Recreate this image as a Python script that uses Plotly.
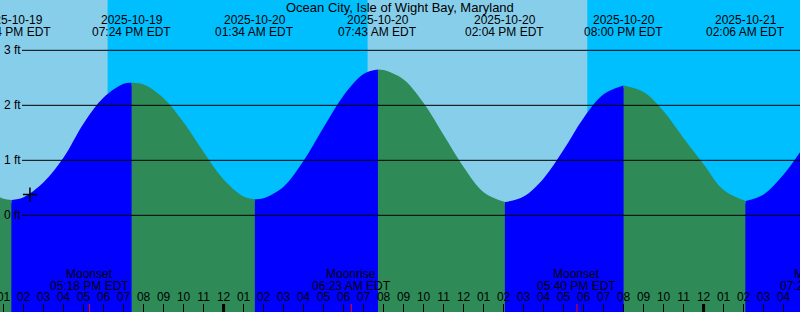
import plotly.graph_objects as go
from datetime import datetime, timedelta

TITLE = "Ocean City, Isle of Wight Bay, Maryland"

# Tide height readings (ft), roughly hourly
hour_times = [
    "2025-10-19 12:00", "2025-10-19 13:00", "2025-10-19 14:00", "2025-10-19 15:00",
    "2025-10-19 16:00", "2025-10-19 17:00", "2025-10-19 18:00", "2025-10-19 19:00",
    "2025-10-19 20:00", "2025-10-19 21:00", "2025-10-19 22:00", "2025-10-19 23:00",
    "2025-10-20 00:00", "2025-10-20 01:00", "2025-10-20 02:00", "2025-10-20 03:00",
    "2025-10-20 04:00", "2025-10-20 05:00", "2025-10-20 06:00", "2025-10-20 07:00",
    "2025-10-20 08:00", "2025-10-20 09:00", "2025-10-20 10:00", "2025-10-20 11:00",
    "2025-10-20 12:00", "2025-10-20 13:00", "2025-10-20 15:00", "2025-10-20 16:00",
    "2025-10-20 17:00", "2025-10-20 18:00", "2025-10-20 19:00", "2025-10-20 21:00",
    "2025-10-20 22:00", "2025-10-20 23:00", "2025-10-21 00:00", "2025-10-21 01:00",
    "2025-10-21 03:00", "2025-10-21 04:00", "2025-10-21 05:00", "2025-10-21 06:00",
]
hour_ft = [
    0.52, 0.30, 0.33, 0.60,
    1.05, 1.67, 2.14, 2.39,
    2.38, 2.13, 1.69, 1.15,
    0.65, 0.34, 0.31, 0.52,
    0.99, 1.60, 2.18, 2.57,
    2.64, 2.47, 2.04, 1.46,
    0.88, 0.42, 0.34, 0.67,
    1.19, 1.77, 2.20, 2.24,
    1.89, 1.40, 0.93, 0.46,
    0.38, 0.74, 1.24, 1.78,
]

# High / low tide events
event_times = ["2025-10-19 13:24", "2025-10-19 19:24", "2025-10-20 01:34",
               "2025-10-20 07:43", "2025-10-20 14:04", "2025-10-20 20:00",
               "2025-10-21 02:06"]
event_ft = [0.28, 2.41, 0.29, 2.65, 0.24, 2.36, 0.26]

# Sun events
sun_times = ["2025-10-19 18:12", "2025-10-20 07:12", "2025-10-20 18:11"]
sun_kinds = ["set", "rise", "set"]

# Moon events
moon_times = ["2025-10-19 17:18", "2025-10-20 06:23", "2025-10-20 17:40", "2025-10-21 07:27"]
moon_kinds = ["Moonset", "Moonrise", "Moonset", "Moonrise"]

# Current-time marker
now_time = "2025-10-19 14:19"
now_ft = 0.38

y_ticks = [0, 1, 2, 3]
y_tick_labels = ["0 ft", "1 ft", "2 ft", "3 ft"]

x_start = "2025-10-19 12:49:12"
x_end = "2025-10-21 04:49:12"
y_range = [-1.758, 3.915]

# colours / style
DAY = "#87CEEB"
NIGHT = "#00BFFF"
RISE = "#0000FF"
FALL = "#2E8B57"
FONT = "Liberation Sans"
W, H = 800, 312


def P(s):
    fmt = "%Y-%m-%d %H:%M" if s.count(":") == 1 else "%Y-%m-%d %H:%M:%S"
    return datetime.strptime(s, fmt)


# merge readings with events
pts = sorted([(P(t), v, False) for t, v in zip(hour_times, hour_ft)] +
             [(P(t), v, True) for t, v in zip(event_times, event_ft)], key=lambda p: p[0])
xs = [p[0] for p in pts]
ys = [p[1] for p in pts]
bounds = [0] + [i for i, p in enumerate(pts) if p[2]] + [len(pts) - 1]

base = y_range[0] - 1.0
fig = go.Figure()


def add_fill(sx, sy, color):
    fig.add_trace(go.Scatter(x=[sx[0], sx[-1]], y=[base, base], mode="lines",
                             line=dict(width=0), hoverinfo="skip", showlegend=False))
    fig.add_trace(go.Scatter(x=sx, y=sy, mode="lines",
                             line=dict(width=0, shape="spline", smoothing=1),
                             fill="tonexty", fillcolor=color,
                             hoverinfo="skip", showlegend=False))


# under-layer kept slightly below the curve so segment seams don't show the sky
add_fill(xs, [v - 0.05 for v in ys], RISE)
# each rising / falling stretch in its own colour
for a, b in zip(bounds[:-1], bounds[1:]):
    add_fill(xs[a:b + 1], ys[a:b + 1], RISE if ys[b] > ys[a] else FALL)

# now marker
fig.add_trace(go.Scatter(x=[P(now_time)], y=[now_ft], mode="markers",
                         marker=dict(symbol="cross-thin", size=10,
                                     line=dict(width=1.5, color="black")),
                         hoverinfo="skip", showlegend=False))

shapes = []
# daylight spans
day_spans = []
cur = P(x_start)
for t, k in zip(sun_times, sun_kinds):
    if k == "set":
        day_spans.append((cur, P(t)))
        cur = None
    else:
        cur = P(t)
if cur is not None:
    day_spans.append((cur, P(x_end)))
for a, b in day_spans:
    shapes.append(dict(type="rect", xref="x", yref="paper", x0=a, x1=b, y0=0, y1=1,
                       fillcolor=DAY, line=dict(width=0), layer="below"))

# height grid lines
for v in y_ticks:
    shapes.append(dict(type="line", xref="paper", yref="y", x0=22 / W, x1=1, y0=v, y1=v,
                       line=dict(color="black", width=1), layer="above"))

# midnight ticks
tick_h = 8 / H
d = P(x_start).replace(hour=0, minute=0, second=0)
while d <= P(x_end):
    if d >= P(x_start):
        shapes.append(dict(type="line", xref="x", yref="paper", x0=d, x1=d, y0=0, y1=tick_h,
                           line=dict(color="black", width=3), layer="above"))
    d += timedelta(days=1)

# moon ticks
for t in moon_times:
    if P(x_start) <= P(t) <= P(x_end):
        shapes.append(dict(type="line", xref="x", yref="paper", x0=P(t), x1=P(t), y0=0, y1=tick_h,
                           line=dict(color="red", width=1), layer="above"))

annos = []
tf = dict(family=FONT, size=12, color="black")
annos.append(dict(text=TITLE, xref="paper", yref="paper", x=0.5, y=1 - 7.5 / H,
                  xanchor="center", yanchor="middle", showarrow=False,
                  font=dict(family=FONT, size=13, color="black")))

for t in event_times:
    dt = P(t)
    annos.append(dict(text=dt.strftime("%Y-%m-%d"), xref="x", yref="paper", x=dt, y=1 - 19.5 / H,
                      xanchor="center", yanchor="middle", showarrow=False, font=tf))
    annos.append(dict(text=dt.strftime("%I:%M %p EDT"), xref="x", yref="paper", x=dt, y=1 - 32.5 / H,
                      xanchor="center", yanchor="middle", showarrow=False, font=tf))

for t, k in zip(moon_times, moon_kinds):
    dt = P(t)
    if dt <= P(x_end):
        pos = dict(xref="x", x=dt, xshift=0)
    else:
        pos = dict(xref="paper", x=1, xshift=19)
    annos.append(dict(text=k, yref="paper", y=1 - 273.5 / H, xanchor="center", yanchor="middle",
                      showarrow=False, font=tf, **pos))
    annos.append(dict(text=dt.strftime("%I:%M %p EDT"), yref="paper", y=1 - 285.5 / H,
                      xanchor="center", yanchor="middle", showarrow=False, font=tf, **pos))

for v, lab in zip(y_ticks, y_tick_labels):
    annos.append(dict(text=lab, xref="paper", yref="y", x=0, y=v, xanchor="left", yanchor="middle",
                      xshift=1.5, showarrow=False, font=tf))

fig.update_layout(
    width=W, height=H, autosize=False,
    margin=dict(l=0, r=0, t=0, b=0, pad=0),
    paper_bgcolor=NIGHT, plot_bgcolor=NIGHT,
    shapes=shapes, annotations=annos, showlegend=False,
    xaxis=dict(type="date", range=[P(x_start), P(x_end)], showgrid=False, zeroline=False,
               showline=False, tick0="2025-10-19 00:00", dtick=3600000, tickformat="%I",
               ticks="inside", ticklen=8, tickwidth=1, tickcolor="black",
               ticklabelposition="inside", ticklabeloverflow="allow", automargin=False,
               tickfont=dict(family=FONT, size=12, color="black"), fixedrange=True),
    yaxis=dict(range=y_range, showgrid=False, zeroline=False, showline=False, automargin=False,
               showticklabels=False, ticks="", fixedrange=True),
)

fig.write_html("out.html", config={"displayModeBar": False})
